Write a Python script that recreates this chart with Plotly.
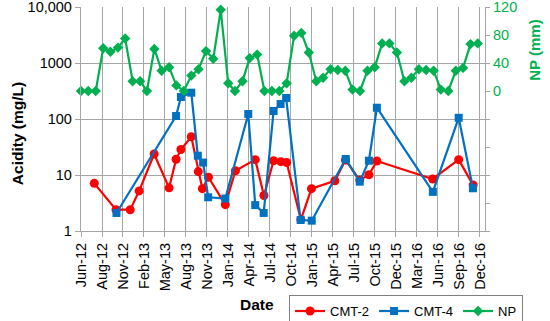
import plotly.graph_objects as go

# ---- Data ----
cmt2_dates = ["2012-07-26", "2012-10-24", "2012-12-22", "2013-01-28", "2013-03-31",
              "2013-06-01", "2013-06-30", "2013-07-20", "2013-09-01", "2013-09-30",
              "2013-10-17", "2013-11-11", "2014-01-20", "2014-03-03", "2014-05-24",
              "2014-06-29", "2014-08-08", "2014-09-07", "2014-10-01", "2014-11-29",
              "2015-01-12", "2015-04-19", "2015-06-02", "2015-07-31", "2015-09-07",
              "2015-10-10", "2016-05-28", "2016-09-13", "2016-11-12"]
cmt2_acidity = [7.1, 2.4, 2.4, 5.2, 23.7,
                5.9, 19.1, 28.5, 48.3, 11.5,
                5.7, 9.1, 2.95, 11.9, 18.8,
                4.3, 18.0, 17.3, 16.7, 1.6,
                5.7, 7.9, 18.5, 8.1, 10.1,
                17.8, 8.5, 18.8, 6.6]

cmt4_dates = ["2012-10-26", "2013-06-30", "2013-07-20", "2013-09-01", "2013-09-28",
              "2013-10-20", "2013-11-10", "2014-01-20", "2014-04-25", "2014-05-24",
              "2014-06-28", "2014-08-08", "2014-09-06", "2014-09-29", "2014-11-28",
              "2015-01-13", "2015-06-03", "2015-07-31", "2015-09-07", "2015-10-10",
              "2016-05-29", "2016-09-13", "2016-11-11"]
cmt4_acidity = [2.1, 113, 247, 295, 22.1,
                16.7, 4.0, 3.8, 123, 2.9,
                2.1, 139, 185, 237, 1.57,
                1.53, 19.3, 7.6, 18.0, 159,
                5.0, 105, 5.8]

np_dates = ["2012-06-01", "2012-07-01", "2012-08-01", "2012-09-01", "2012-10-01", "2012-11-01", "2012-12-01",
            "2013-01-01", "2013-02-01", "2013-03-01", "2013-04-01", "2013-05-01", "2013-06-01",
            "2013-07-01", "2013-08-01", "2013-09-01", "2013-10-01", "2013-11-01", "2013-12-01",
            "2014-01-01", "2014-02-01", "2014-03-01", "2014-04-01", "2014-05-01", "2014-06-01",
            "2014-07-01", "2014-08-01", "2014-09-01", "2014-10-01", "2014-11-01", "2014-12-01",
            "2015-01-01", "2015-02-01", "2015-03-01", "2015-04-01", "2015-05-01", "2015-06-01",
            "2015-07-01", "2015-08-01", "2015-09-01", "2015-10-01", "2015-11-01", "2015-12-01",
            "2016-01-01", "2016-02-01", "2016-03-01", "2016-04-01", "2016-05-01", "2016-06-01",
            "2016-07-01", "2016-08-01", "2016-09-01", "2016-10-01", "2016-11-01", "2016-12-01"]
np_mm = [0, 0, 0, 61, 56, 62, 75,
         14, 14, 0, 60, 29, 34,
         8, 0, 22, 31, 57, 46,
         116, 11, 0, 14, 47, 52,
         0, 0, 0, 11, 79, 83,
         55, 14, 19, 31, 30, 29,
         2, 0, 29, 34, 68, 68,
         55, 14, 19, 31, 30, 29,
         2, 0, 29, 33, 67, 68]

left_tickvals = [1, 10, 100, 1000, 10000]
left_ticktext = ["1", "10", "100", "1000", "10,000"]
right_tickvals = [-200, -160, -120, -80, -40, 0, 40, 80, 120]
right_ticktext = ["", "", "", "", "", "0", "40", "80", "120"]

RED = "#FF0000"
BLUE = "#0070C0"
GREEN = "#00B050"
GRID = "#A6A6A6"
FONT = "Arial, Liberation Sans, sans-serif"

fig = go.Figure()
fig.add_trace(go.Scatter(x=cmt2_dates, y=cmt2_acidity, name="CMT-2", mode="lines+markers",
                         line=dict(color=RED, width=2.2),
                         marker=dict(symbol="circle", size=9, color=RED),
                         cliponaxis=False))
fig.add_trace(go.Scatter(x=cmt4_dates, y=cmt4_acidity, name="CMT-4", mode="lines+markers",
                         line=dict(color=BLUE, width=2.2),
                         marker=dict(symbol="square", size=8, color=BLUE),
                         cliponaxis=False))
fig.add_trace(go.Scatter(x=np_dates, y=np_mm, name="NP", mode="lines+markers", yaxis="y2",
                         line=dict(color=GREEN, width=2.2),
                         marker=dict(symbol="diamond", size=8, color=GREEN),
                         cliponaxis=False))

fig.update_layout(
    width=550, height=321,
    margin=dict(l=81, r=65, t=7, b=90, autoexpand=False),
    paper_bgcolor="white", plot_bgcolor="white",
    font=dict(family=FONT, size=14, color="#000000"),
    showlegend=True,
    legend=dict(orientation="h", x=0.515, y=-0.286, xanchor="left", yanchor="top",
                bordercolor="#808080", borderwidth=1, bgcolor="white",
                font=dict(size=13, family=FONT), tracegroupgap=0,
                itemwidth=30),
    xaxis=dict(type="date", range=["2012-06-01", "2016-12-31"],
               tick0="2012-06-01", dtick=87 * 86400000, tickformat="%b-%y",
               tickangle=-90, tickfont=dict(size=14.5), automargin=False,
               showgrid=True, gridcolor=GRID, gridwidth=1.3,
               showline=True, linecolor=GRID, linewidth=1.3,
               ticks="outside", ticklen=5, tickcolor=GRID, zeroline=False),
    yaxis=dict(type="log", range=[0, 4], tickvals=left_tickvals, ticktext=left_ticktext,
               tickfont=dict(size=14.5), ticklabeloverflow="allow", automargin=False,
               showgrid=True, gridcolor=GRID, gridwidth=1.3,
               showline=True, linecolor=GRID, linewidth=1.3,
               ticks="outside", ticklen=5, tickcolor=GRID, zeroline=False),
    yaxis2=dict(overlaying="y", side="right", range=[-200, 120],
                tickvals=right_tickvals, ticktext=right_ticktext,
                tickfont=dict(size=14.5, color=GREEN), ticklabeloverflow="allow",
                automargin=False,
                showgrid=False, showline=True, linecolor=GRID, linewidth=1.3,
                ticks="outside", ticklen=4, tickcolor=GRID, zeroline=False),
    annotations=[
        dict(text="<b>Acidity (mg/L)</b>", xref="paper", yref="paper", x=-0.158, y=0.433,
             xanchor="center", yanchor="middle",
             textangle=-90, showarrow=False, font=dict(size=15.5, color="#000000")),
        dict(text="<b>NP (mm)</b>", xref="paper", yref="paper", x=1.124, y=0.805,
             xanchor="center", yanchor="middle",
             textangle=-90, showarrow=False, font=dict(size=15, color=GREEN)),
        dict(text="<b>Date</b>", xref="paper", yref="paper", x=0.436, y=-0.33,
             xanchor="center", yanchor="middle",
             showarrow=False, font=dict(size=15.5, color="#000000")),
    ],
)

fig.write_html("out.html", config={"displayModeBar": False},
               post_script="document.body.style.margin='0';")
